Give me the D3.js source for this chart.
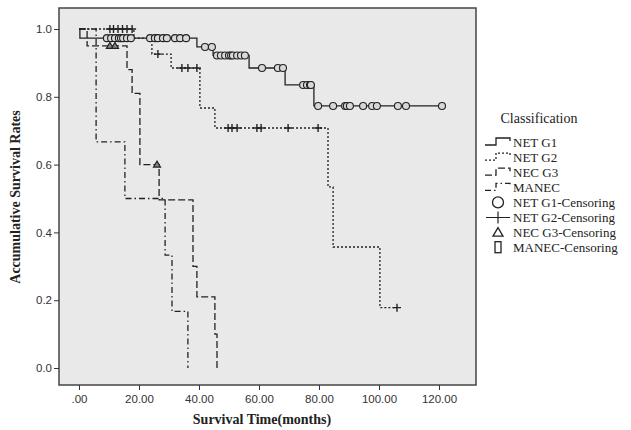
<!DOCTYPE html>
<meta charset="utf-8" />
<style>
  body { margin: 0; background: #fff; }
  .tick text { font-family: "Liberation Sans", Arial, sans-serif; font-size: 11.5px; fill: #333; }
  .tick line { stroke: #333; }
  .title { font-family: "Liberation Serif", "Times New Roman", serif; font-weight: bold; font-size: 14px; fill: #222; }
  .legend text { font-family: "Liberation Serif", "Times New Roman", serif; font-size: 13px; fill: #222; }
</style>
<svg width="631" height="430"></svg>
<script src="https://d3js.org/d3.v7.min.js"></script>
<script>
  // Kaplan-Meier steps (time in months, survival rate)
  var netG1Times = [0, 0.3, 39.3, 44.7, 56.7, 68.7, 78.3];
  var netG1Surv = [1, 0.973, 0.947, 0.922, 0.885, 0.835, 0.773];
  var netG1Censor = [9.3, 10.7, 12, 13.3, 14, 14.7, 16, 17.3, 23.7, 25.3, 26.3, 28, 29.3, 32, 33.7, 35.7,
    42, 44.3, 46, 47.3, 48.7, 50, 50.7, 51.3, 52.7, 54, 55.3, 61, 66.3, 68, 74.7, 76, 77, 77.3,
    79.7, 84.7, 88.7, 89.3, 90.3, 94.7, 97.7, 99.3, 106.3, 109, 121];

  var netG2Times = [0, 18.3, 24.3, 30.7, 40.3, 45.3, 83, 84.7, 100.3];
  var netG2Surv = [1, 0.973, 0.926, 0.885, 0.767, 0.708, 0.534, 0.357, 0.178];
  var netG2Censor = [10.3, 11.5, 13, 14.5, 16, 17.7, 26.3, 34.3, 36.3, 39.3, 49.7, 51, 52.7, 59.3, 60.7, 69.7, 79.7, 106];

  var necG3Times = [0, 2.7, 16, 17.7, 20.3, 26.7, 38, 39.3, 45.3, 46];
  var necG3Surv = [1, 0.95, 0.88, 0.81, 0.6, 0.496, 0.3, 0.21, 0.1, 0];
  var necG3Censor = [10.3, 12, 26];

  var manecTimes = [0, 5.7, 15.3, 28.7, 31, 36.3];
  var manecSurv = [1, 0.667, 0.5, 0.333, 0.167, 0];
  var manecCensor = [];

  var xTicks = [0, 20, 40, 60, 80, 100, 120];
  var yTicks = [0, 0.2, 0.4, 0.6, 0.8, 1.0];
  var legendNames = ["NET G1", "NET G2", "NEC G3", "MANEC",
    "NET G1-Censoring", "NET G2-Censoring", "NEC G3-Censoring", "MANEC-Censoring"];

  var groups = [
    { times: netG1Times, surv: netG1Surv, censor: netG1Censor, dash: null, mark: "circle" },
    { times: netG2Times, surv: netG2Surv, censor: netG2Censor, dash: "2,2", mark: "plus" },
    { times: necG3Times, surv: necG3Surv, censor: necG3Censor, dash: "7,3", mark: "triangle" },
    { times: manecTimes, surv: manecSurv, censor: manecCensor, dash: "6,3,1.5,3", mark: "rect" }
  ];

  var svg = d3.select("svg");
  var frame = { left: 59, top: 8, right: 476, bottom: 385 };

  var x = d3.scaleLinear().domain([0, 120]).range([79, 439]);
  var y = d3.scaleLinear().domain([0, 1]).range([368, 29]);

  svg.append("rect")
    .attr("x", frame.left).attr("y", frame.top)
    .attr("width", frame.right - frame.left).attr("height", frame.bottom - frame.top)
    .attr("fill", "#e9e9e9")
    .attr("stroke", "#444").attr("stroke-width", 1.5);

  var xAxis = svg.append("g")
    .attr("transform", "translate(0," + frame.bottom + ")")
    .call(d3.axisBottom(x).tickValues(xTicks).tickSize(5).tickPadding(5)
      .tickFormat(function (d) { return d === 0 ? ".00" : d.toFixed(2); }));
  xAxis.select(".domain").remove();

  var yAxis = svg.append("g")
    .attr("transform", "translate(" + frame.left + ",0)")
    .call(d3.axisLeft(y).tickValues(yTicks).tickSize(5).tickPadding(2)
      .tickFormat(d3.format(".1f")));
  yAxis.select(".domain").remove();

  svg.append("text").attr("class", "title")
    .attr("transform", "translate(20,197) rotate(-90)")
    .attr("text-anchor", "middle")
    .text("Accumulative Survival Rates");

  svg.append("text").attr("class", "title")
    .attr("x", 262).attr("y", 424)
    .attr("text-anchor", "middle")
    .text("Survival Time(months)");

  var line = d3.line()
    .x(function (d) { return x(d[0]); })
    .y(function (d) { return y(d[1]); })
    .curve(d3.curveStepAfter);

  function survAt(g, t) {
    var i = d3.bisectRight(g.times, t) - 1;
    return g.surv[Math.max(i, 0)];
  }

  function drawMark(sel, type, cx, cy) {
    if (type === "circle") {
      sel.append("circle").attr("cx", cx).attr("cy", cy).attr("r", 3.5)
        .attr("fill", "#d8d8d8").attr("stroke", "#222").attr("stroke-width", 1.1);
    } else if (type === "plus") {
      sel.append("path")
        .attr("d", "M" + (cx - 4) + "," + cy + "H" + (cx + 4) + "M" + cx + "," + (cy - 4) + "V" + (cy + 4))
        .attr("stroke", "#222").attr("stroke-width", 1.4).attr("fill", "none");
    } else if (type === "triangle") {
      sel.append("path")
        .attr("d", "M" + cx + "," + (cy - 3.5) + "L" + (cx + 3.5) + "," + (cy + 2.5) + "L" + (cx - 3.5) + "," + (cy + 2.5) + "Z")
        .attr("stroke", "#222").attr("stroke-width", 1.2).attr("fill", "#888");
    } else {
      sel.append("rect").attr("x", cx - 2.5).attr("y", cy - 4.5).attr("width", 5).attr("height", 9)
        .attr("stroke", "#222").attr("stroke-width", 1.1).attr("fill", "none");
    }
  }

  var plot = svg.append("g");
  groups.slice().reverse().forEach(function (g) {
    var pts = g.times.map(function (t, i) { return [t, g.surv[i]]; });
    var last = g.surv[g.surv.length - 1];
    var end = last === 0 ? g.times[g.times.length - 1] : d3.max(g.censor.concat(g.times));
    pts.push([end, last]);
    plot.append("path")
      .attr("d", line(pts))
      .attr("fill", "none")
      .attr("stroke", "#222")
      .attr("stroke-width", 1.3)
      .attr("stroke-dasharray", g.dash);
    var mg = plot.append("g");
    g.censor.forEach(function (t) {
      drawMark(mg, g.mark, x(t), y(survAt(g, t)));
    });
  });

  // legend
  var legend = svg.append("g").attr("class", "legend");
  legend.append("text").attr("x", 539).attr("y", 123)
    .attr("text-anchor", "middle").style("font-size", "14px")
    .text("Classification");

  legendNames.forEach(function (name, i) {
    var ly = 142 + i * 15.1;
    legend.append("text").attr("x", 513).attr("y", ly + 4.5).text(name);
    if (i < 4) {
      legend.append("path")
        .attr("d", "M485," + (ly + 3) + "H496V" + (ly - 4) + "H510V" + (ly - 1))
        .attr("fill", "none").attr("stroke", "#222").attr("stroke-width", 1.3)
        .attr("stroke-dasharray", groups[i].dash);
    } else {
      var g = groups[i - 4];
      if (g.mark === "plus") {
        legend.append("path")
          .attr("d", "M486," + ly + "H510M498," + (ly - 6) + "V" + (ly + 6))
          .attr("stroke", "#222").attr("stroke-width", 1.2);
      } else if (g.mark === "circle") {
        legend.append("circle").attr("cx", 498).attr("cy", ly).attr("r", 5.5)
          .attr("fill", "none").attr("stroke", "#222").attr("stroke-width", 1.3);
      } else if (g.mark === "triangle") {
        legend.append("path")
          .attr("d", "M498," + (ly - 5) + "L503," + (ly + 3.5) + "L493," + (ly + 3.5) + "Z")
          .attr("fill", "none").attr("stroke", "#222").attr("stroke-width", 1.3);
      } else {
        legend.append("rect").attr("x", 495).attr("y", ly - 6).attr("width", 6).attr("height", 11)
          .attr("fill", "none").attr("stroke", "#222").attr("stroke-width", 1.3);
      }
    }
  });
</script>
